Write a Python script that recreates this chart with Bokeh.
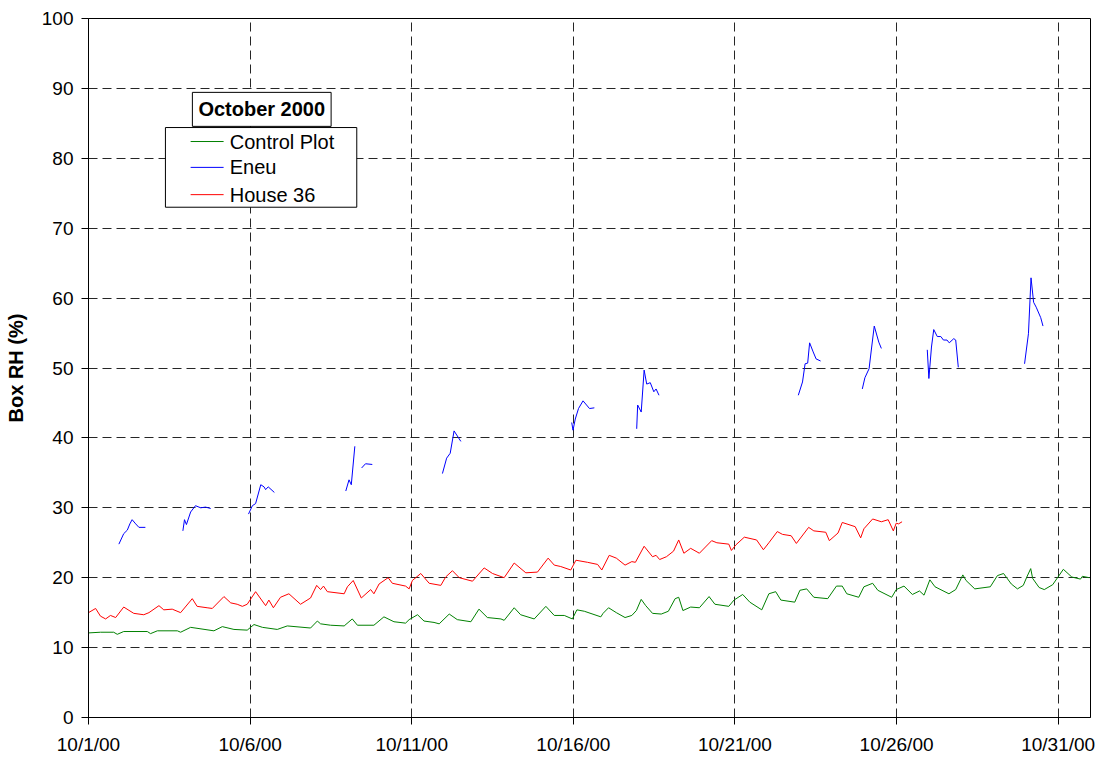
import numpy as np
from bokeh.plotting import figure
from bokeh.models import FixedTicker, Label, Range1d, ColumnDataSource, BoxAnnotation
from bokeh.embed import file_html
from bokeh.resources import INLINE

FONT = "Liberation Sans"

# x values are days since 10/1/00
tick_days = [0, 5, 10, 15, 20, 25, 30]
tick_labels = ["10/1/00", "10/6/00", "10/11/00", "10/16/00", "10/21/00", "10/26/00", "10/31/00"]
y_ticks = [0, 10, 20, 30, 40, 50, 60, 70, 80, 90, 100]

control_day = [0.00, 0.37, 0.78, 0.89, 1.09, 1.82, 1.92, 2.13, 2.75, 2.85, 3.16, 3.88, 4.14, 4.50,
               4.91, 5.12, 5.38, 5.84, 6.15, 6.87, 7.08, 7.18, 7.49, 7.91, 8.16, 8.32, 8.83, 9.14,
               9.45, 9.81, 9.92, 10.18, 10.38, 10.69, 10.85, 11.16, 11.41, 11.83, 12.08, 12.34,
               12.76, 12.86, 13.17, 13.37, 13.79, 14.15, 14.41, 14.72, 14.97, 15.11, 15.34, 15.85,
               15.92, 16.09, 16.33, 16.60, 16.81, 16.95, 17.10, 17.24, 17.45, 17.72, 17.94, 18.15,
               18.26, 18.39, 18.63, 18.90, 19.20, 19.38, 19.81, 19.97, 20.24, 20.46, 20.83, 21.05,
               21.26, 21.42, 21.85, 22.01, 22.22, 22.44, 22.87, 23.14, 23.32, 23.46, 23.83, 23.99,
               24.26, 24.42, 24.85, 24.99, 25.23, 25.49, 25.71, 25.85, 26.03, 26.19, 26.62, 26.83,
               27.05, 27.15, 27.42, 27.90, 28.12, 28.31, 28.55, 28.74, 28.92, 29.03, 29.15, 29.21,
               29.41, 29.57, 29.83, 30.16, 30.42, 30.69, 30.75, 30.96]
control_rh = [12.1, 12.2, 12.2, 11.9, 12.3, 12.3, 12.0, 12.4, 12.4, 12.2, 12.9, 12.4, 13.0, 12.6,
              12.5, 13.3, 12.9, 12.6, 13.1, 12.8, 13.8, 13.4, 13.2, 13.1, 14.1, 13.2, 13.2, 14.4,
              13.7, 13.5, 14.0, 14.7, 13.8, 13.6, 13.4, 14.8, 14.0, 13.7, 15.5, 14.3,
              14.1, 13.9, 15.7, 14.7, 14.1, 15.9, 14.6, 14.6, 14.1, 15.4, 15.2, 14.4,
              14.9, 15.7, 15.0, 14.3, 14.6, 15.3, 16.9, 16.0, 14.9, 14.8, 15.2, 17.0,
              17.2, 15.3, 15.8, 15.7, 17.3, 16.2, 15.9, 16.8, 17.6, 16.5, 15.4, 17.7,
              18.0, 16.8, 16.5, 18.2, 18.4, 17.2, 17.0, 18.8, 18.8, 17.7, 17.2, 18.7,
              19.2, 18.2, 17.2, 18.3, 18.8, 17.6, 18.1, 17.5, 19.7, 18.7, 17.7, 18.3,
              20.4, 19.6, 18.4, 18.7, 20.3, 20.6, 19.1, 18.4, 18.9, 20.1, 21.3, 19.9,
              18.6, 18.3, 19.0, 21.2, 20.1, 19.8, 20.2, 20.0]

house_day = [0.00, 0.22, 0.37, 0.53, 0.68, 0.84, 1.09, 1.40, 1.71, 1.87, 2.18, 2.33, 2.59, 2.85,
             3.21, 3.36, 3.67, 3.83, 4.19, 4.40, 4.60, 4.76, 4.91, 5.17, 5.48, 5.58, 5.72, 5.94,
             6.20, 6.56, 6.87, 7.06, 7.18, 7.27, 7.39, 7.91, 8.01, 8.19, 8.44, 8.73, 8.83, 8.99,
             9.27, 9.40, 9.81, 9.92, 10.02, 10.28, 10.54, 10.90, 11.05, 11.26, 11.47, 11.88,
             12.24, 12.50, 12.86, 13.17, 13.53, 13.89, 14.22, 14.41, 14.61, 14.92, 15.08, 15.44,
             15.75, 15.88, 16.11, 16.33, 16.60, 16.81, 16.92, 17.19, 17.45, 17.56, 17.67, 17.88,
             18.10, 18.26, 18.42, 18.63, 18.90, 19.28, 19.44, 19.81, 19.89, 20.03, 20.29, 20.67,
             20.88, 21.05, 21.31, 21.47, 21.74, 21.90, 22.28, 22.44, 22.81, 22.92, 23.19, 23.32,
             23.72, 23.89, 23.99, 24.26, 24.53, 24.74, 24.90, 24.99, 25.06, 25.17]
house_rh = [15.0, 15.6, 14.5, 14.1, 14.6, 14.3, 15.8, 14.9, 14.7, 15.0, 16.0, 15.4, 15.5, 15.0,
            17.0, 15.9, 15.7, 15.6, 17.3, 16.4, 16.2, 15.9, 16.2, 18.0, 16.0, 16.8, 15.7, 17.2,
            17.7, 16.2, 17.1, 18.9, 18.3, 18.8, 18.0, 17.7, 18.7, 19.6, 17.1, 18.3, 17.7, 19.1,
            20.0, 19.2, 18.8, 18.4, 19.6, 20.6, 19.2, 18.9, 20.1, 21.0, 20.0, 19.5,
            21.4, 20.6, 20.0, 22.1, 20.7, 20.8, 22.8, 21.8, 21.6, 21.1, 22.5, 22.2,
            21.9, 21.1, 23.2, 22.8, 21.8, 22.3, 22.2, 24.5, 23.0, 23.2, 22.6, 23.0,
            23.8, 25.4, 23.5, 24.2, 23.5, 25.3, 25.0, 24.8, 23.9, 24.7, 25.8, 25.4,
            24.0, 25.0, 26.6, 26.2, 26.0, 24.9, 27.2, 26.7, 26.5, 25.3, 26.4, 27.9,
            27.3, 25.7, 27.0, 28.4, 28.0, 28.3, 26.7, 27.8, 27.7, 28.0]

NAN = float("nan")
eneu_day = [0.94, 1.09, 1.20, 1.28, 1.35, 1.46, 1.56, 1.76, NAN,
            2.92, 2.97, 3.03, 3.16, 3.31, 3.47, 3.62, 3.78, NAN,
            4.95, 5.07, 5.17, 5.33, 5.43, 5.48, 5.56, 5.75, NAN,
            7.96, 8.06, 8.13, 8.24, NAN, 8.45, 8.57, 8.78, NAN,
            10.95, 11.08, 11.19, 11.31, 11.52, NAN,
            14.95, 14.99, 15.06, 15.16, 15.30, 15.50, 15.65, NAN,
            16.96, 16.99, 17.10, 17.19, 17.27, 17.38, 17.49, 17.56, 17.65, NAN,
            21.96, 22.09, 22.17, 22.25, 22.31, 22.42, 22.51, 22.65, NAN,
            23.94, 24.02, 24.15, 24.23, 24.31, 24.45, 24.53, NAN,
            25.95, 26.00, 26.08, 26.15, 26.26, 26.37, 26.45, 26.56, 26.63, 26.77, 26.83, 26.91, NAN,
            28.96, 29.08, 29.16, 29.24, 29.32, 29.46, 29.53]
eneu_rh = [24.8, 26.3, 26.8, 27.7, 28.3, 27.7, 27.2, 27.2, NAN,
           26.7, 28.3, 27.6, 29.4, 30.3, 30.0, 30.1, 29.9, NAN,
           29.1, 30.3, 30.6, 33.3, 33.0, 32.6, 33.0, 32.2, NAN,
           32.4, 34.0, 33.3, 38.8, NAN, 35.7, 36.3, 36.2, NAN,
           34.9, 37.1, 37.8, 41.0, 39.5, NAN,
           42.2, 41.1, 42.7, 44.2, 45.3, 44.2, 44.3, NAN,
           41.3, 44.7, 43.7, 49.7, 47.7, 47.9, 46.6, 47.0, 46.1, NAN,
           46.1, 48.0, 50.6, 50.7, 53.6, 52.3, 51.3, 51.0, NAN,
           47.0, 48.6, 49.9, 53.0, 56.0, 53.7, 52.8, NAN,
           52.6, 48.5, 53.0, 55.5, 54.5, 54.5, 54.0, 54.0, 53.6, 54.2, 54.0, 50.1, NAN,
           50.6, 54.9, 62.9, 59.4, 58.7, 57.2, 56.0]

series_names = ["Control Plot", "Eneu", "House 36"]
series_colors = ["#008000", "#0000ff", "#ff0000"]
legend_title = "October 2000"

p = figure(width=1098, height=757, x_range=Range1d(0, 31), y_range=Range1d(0, 100),
           output_backend="svg", toolbar_location=None,
           min_border_left=88, min_border_right=8, min_border_top=18, min_border_bottom=40)
p.background_fill_color = "white"
p.border_fill_color = "white"
p.outline_line_color = "black"
p.outline_line_width = 1

src_c = ColumnDataSource(dict(x=control_day, y=control_rh))
src_e = ColumnDataSource(dict(x=np.array(eneu_day), y=np.array(eneu_rh)))
src_h = ColumnDataSource(dict(x=house_day, y=house_rh))

p.line("x", "y", source=src_c, line_color=series_colors[0], line_width=1)
p.line("x", "y", source=src_e, line_color=series_colors[1], line_width=1)
p.line("x", "y", source=src_h, line_color=series_colors[2], line_width=1)

# axes
p.xaxis.ticker = FixedTicker(ticks=tick_days)
p.xaxis.major_label_overrides = {d: lab for d, lab in zip(tick_days, tick_labels)}
p.yaxis.ticker = FixedTicker(ticks=y_ticks)
for ax in (p.xaxis[0], p.yaxis[0]):
    ax.axis_line_color = "black"
    ax.axis_line_width = 1
    ax.major_tick_line_color = "black"
    ax.major_tick_out = 7
    ax.major_tick_in = 0
    ax.minor_tick_out = 0
    ax.minor_tick_in = 0
    ax.major_label_text_font = FONT
    ax.major_label_text_font_size = "19px"
    ax.major_label_text_color = "black"
p.xaxis.major_label_standoff = 9
p.yaxis.major_label_standoff = 8
p.yaxis.axis_label = "Box RH (%)"
p.yaxis.axis_label_text_font = FONT
p.yaxis.axis_label_text_font_size = "20px"
p.yaxis.axis_label_text_font_style = "bold"
p.yaxis.axis_label_text_color = "black"
p.yaxis.axis_label_standoff = 12

# grid
p.xgrid.ticker = FixedTicker(ticks=tick_days)
p.ygrid.ticker = FixedTicker(ticks=y_ticks)
for g in (p.xgrid[0], p.ygrid[0]):
    g.grid_line_color = "black"
    g.grid_line_dash = "9 5"
    g.grid_line_width = 1
    g.grid_line_alpha = 0.85

# legend box (drawn by hand, placed in data units)
leg_left, leg_right, leg_top, leg_bottom = 2.38, 8.30, 84.4, 73.0
item_y = [82.4, 78.7, 74.8]
sw_x0, sw_x1, txt_x = 3.16, 4.18, 4.37

box = BoxAnnotation(left=leg_left, right=leg_right, top=leg_top, bottom=leg_bottom,
                    fill_color="white", fill_alpha=1.0,
                    line_color="black", line_alpha=1.0, line_width=1)
p.add_layout(box)

sw = p.segment(x0=[sw_x0] * 3, x1=[sw_x1] * 3, y0=item_y, y1=item_y,
               line_color=series_colors, line_width=1)
sw.level = "overlay"

for name, yy in zip(series_names, item_y):
    p.add_layout(Label(x=txt_x, y=yy, text=name, text_font=FONT, text_font_size="20px",
                       text_color="black", text_align="left", text_baseline="middle"))

title_box = Label(x=5.36, y=87.0, text=legend_title, text_font=FONT,
                  text_font_size="20px", text_font_style="bold", text_color="black",
                  text_align="center", text_baseline="middle",
                  border_line_color="black", border_line_width=1,
                  background_fill_color="white", padding=6)
p.add_layout(title_box)

open("out.html", "w").write(file_html(p, INLINE))
